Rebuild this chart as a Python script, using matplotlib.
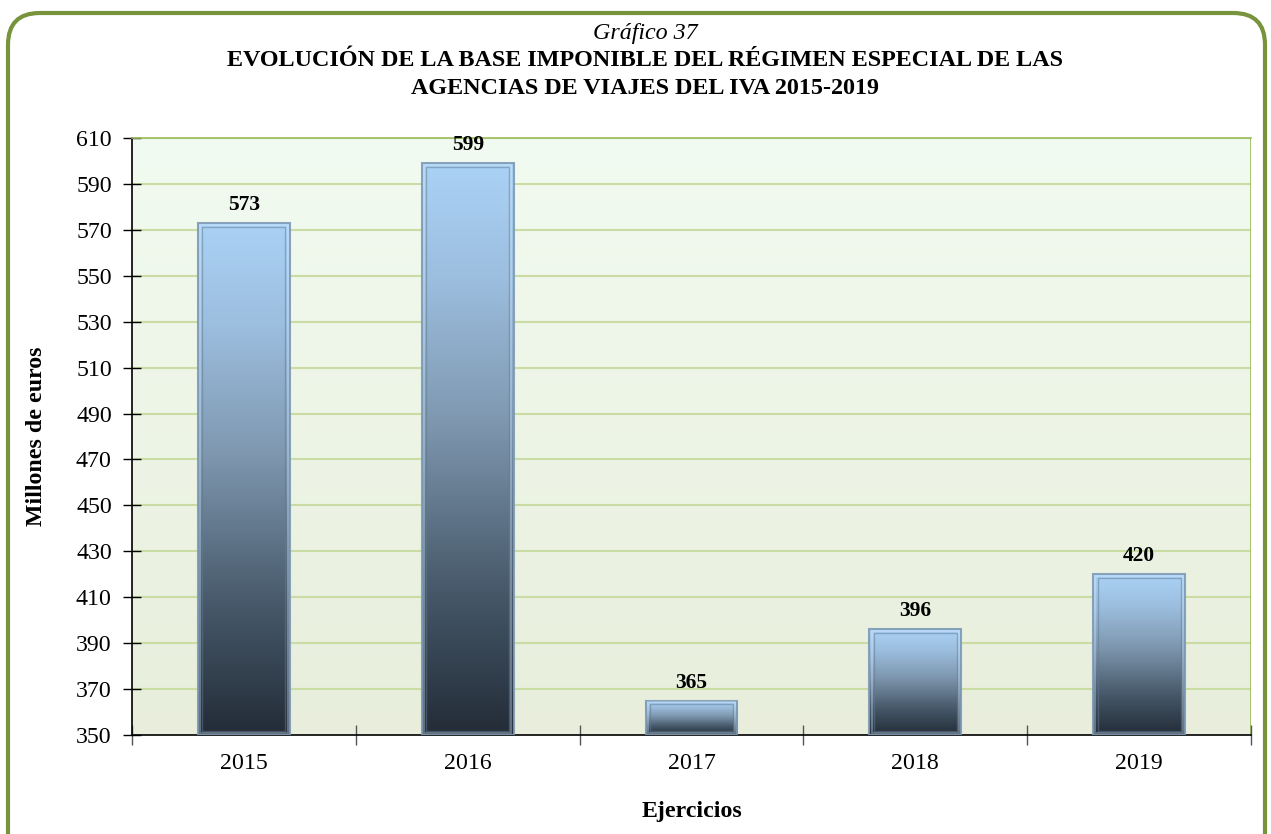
import matplotlib
matplotlib.use('Agg')
import matplotlib.pyplot as plt
import numpy as np
from matplotlib.colors import LinearSegmentedColormap
from matplotlib.patches import Rectangle, FancyBboxPatch

years = ['2015', '2016', '2017', '2018', '2019']
values = [573, 599, 365, 396, 420]
y_ticks = list(range(350, 611, 20))

plt.rcParams['font.family'] = ['Liberation Serif', 'DejaVu Serif']

fig = plt.figure(figsize=(12.71, 8.34), dpi=100)

# rounded green frame (bottom edge runs off the page)
frame = FancyBboxPatch((8 / 1271, -0.05), 1257 / 1271, 0.05 + (834 - 13) / 834,
                       boxstyle='round,pad=0,rounding_size=0.025',
                       transform=fig.transFigure, facecolor='none',
                       edgecolor='#77933c', linewidth=3, mutation_aspect=1271 / 834)
fig.patches.append(frame)

ax = fig.add_axes([132 / 1271, (834 - 735) / 834, 1119 / 1271, 597 / 834])
ymin, ymax = 350, 610
n = len(years)
ax.set_xlim(-0.5, n - 0.5)
ax.set_ylim(ymin, ymax)

# background gradient of the plot area
bg = LinearSegmentedColormap.from_list('bg', ['#e8eedb', '#f2fbf1'])
ax.imshow(np.linspace(0, 1, 256).reshape(-1, 1), cmap=bg, origin='lower',
          extent=[-0.5, n - 0.5, ymin, ymax], aspect='auto', zorder=0)

for y in y_ticks[1:]:
    ax.axhline(y, color='#c9dca3', linewidth=1.5, zorder=1)
ax.axvline(n - 0.5, color='#9bbb59', linewidth=1.2, zorder=1)

bar_cmap = LinearSegmentedColormap.from_list(
    'bar', [(0.0, '#232c37'), (0.25, '#465869'), (0.55, '#7f98b0'),
            (0.8, '#9cbedf'), (1.0, '#aad2f5')])
width = 0.41
grad = np.linspace(0, 1, 256).reshape(-1, 1)
bars = ax.bar(range(n), [v - ymin for v in values], bottom=ymin, width=width,
              color='none', edgecolor='none', zorder=2)
for b, v in zip(bars, values):
    x0 = b.get_x()
    im = ax.imshow(grad, cmap=bar_cmap, origin='lower', aspect='auto',
                   extent=[x0, x0 + width, ymin, v], zorder=3)
    im.set_clip_path(b)
    ax.add_patch(Rectangle((x0, ymin), width, v - ymin, facecolor='none',
                           edgecolor='#7d9ab5', linewidth=1.5, alpha=0.9, zorder=4))
    ax.add_patch(Rectangle((x0 + 0.02, ymin + 1.6), width - 0.04, v - ymin - 3.2,
                           facecolor='none', edgecolor='#5f7a92', linewidth=1.0,
                           alpha=0.5, zorder=4))
    ax.add_patch(Rectangle((x0 + 0.01, ymin + 0.8), width - 0.02, v - ymin - 1.6,
                           facecolor='none', edgecolor='#d6ebff', linewidth=1.5,
                           alpha=0.35, zorder=4))
    ax.text(b.get_x() + width / 2, v + 3.5, str(v), ha='center', va='bottom',
            fontsize=15.5, fontweight='bold', zorder=5)

ax.set_yticks(y_ticks)
ax.set_yticklabels([str(t) for t in y_ticks], fontsize=17.2)
ax.set_xticks(range(n))
ax.set_xticklabels(years, fontsize=17.2)
ax.tick_params(axis='x', length=0, pad=13)
ax.set_xticks(np.arange(-0.5, n, 1.0), minor=True)
ax.tick_params(axis='x', which='minor', direction='inout', length=14,
               color='#555555', width=1)
ax.tick_params(axis='y', direction='inout', length=13, width=1, pad=8)

for s in ['left', 'bottom']:
    ax.spines[s].set_color('black')
    ax.spines[s].set_linewidth(1.2)
ax.spines['right'].set_visible(False)
ax.spines['top'].set_color('#9bbb59')
ax.spines['top'].set_linewidth(1.2)

ax.set_ylabel('Millones de euros', fontsize=17.2, fontweight='bold')
ax.yaxis.set_label_coords(-(132 - 47) / 1119, 0.5)
ax.set_xlabel('Ejercicios', fontsize=17.2, fontweight='bold')
ax.xaxis.set_label_coords(0.5, -(801 - 735) / 597)

tx = 645 / 1271
fig.text(tx, 1 - 33 / 834, 'Gráfico 37', ha='center', va='center',
         fontsize=17.3, style='italic')
fig.text(tx, 1 - 61 / 834, 'EVOLUCIÓN DE LA BASE IMPONIBLE DEL RÉGIMEN ESPECIAL DE LAS',
         ha='center', va='center', fontsize=17.4, fontweight='bold')
fig.text(tx, 1 - 88 / 834, 'AGENCIAS DE VIAJES DEL IVA 2015-2019',
         ha='center', va='center', fontsize=17.4, fontweight='bold')

fig.savefig('out.png', dpi=100)
